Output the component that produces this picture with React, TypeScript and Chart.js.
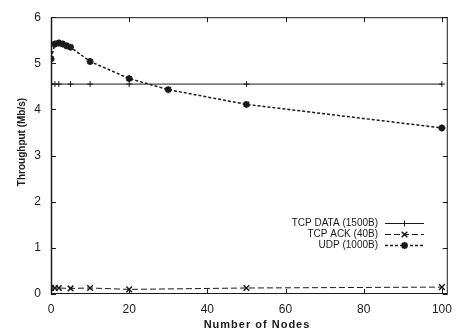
import React, { useEffect, useRef } from "react";
import { Chart, registerables } from "chart.js";

Chart.register(...registerables);

const tcpNodes = [0, 1, 2, 5, 10, 20, 50, 100];
const tcpDataValues = [4.55, 4.55, 4.55, 4.55, 4.55, 4.55, 4.55, 4.55];
const tcpAckValues = [0.13, 0.13, 0.13, 0.12, 0.13, 0.1, 0.13, 0.15];
const udpNodes = [0, 1, 2, 3, 4, 5, 10, 20, 30, 50, 100];
const udpValues = [5.1, 5.42, 5.44, 5.42, 5.38, 5.35, 5.04, 4.67, 4.43, 4.11, 3.6];
const seriesLabels = ["TCP DATA (1500B)", "TCP ACK (40B)", "UDP (1000B)"];
const xTicks = [0, 20, 40, 60, 80, 100];
const yTicks = [0, 1, 2, 3, 4, 5, 6];
const xTitle = "Number of Nodes";
const yTitle = "Throughput (Mb/s)";

const INK = "#1a1a1a";
const FONT = "'Liberation Sans', Arial, sans-serif";

const framePlugin = {
  id: "frame",
  afterDraw(chart: any) {
    const ctx = chart.ctx;
    const { left, right, top, bottom } = chart.chartArea;
    const xs = chart.scales.x;
    const ys = chart.scales.y;
    ctx.save();
    ctx.strokeStyle = INK;
    ctx.lineWidth = 1;
    ctx.setLineDash([]);
    ctx.strokeRect(left + 0.5, top + 0.5, right - left - 1, bottom - top - 1);
    ctx.lineWidth = 1.5;
    ctx.beginPath();
    ctx.moveTo(left + 0.5, top);
    ctx.lineTo(left + 0.5, bottom);
    ctx.stroke();
    ctx.lineWidth = 1;
    ctx.beginPath();
    yTicks.forEach((v) => {
      const y = Math.round(ys.getPixelForValue(v)) + 0.5;
      ctx.moveTo(left, y);
      ctx.lineTo(left + 5, y);
      ctx.moveTo(right, y);
      ctx.lineTo(right - 5, y);
    });
    xTicks.forEach((v) => {
      const x = Math.round(xs.getPixelForValue(v)) + 0.5;
      ctx.moveTo(x, bottom);
      ctx.lineTo(x, bottom - 5);
      ctx.moveTo(x, top);
      ctx.lineTo(x, top + 5);
    });
    ctx.stroke();

    // axis titles
    ctx.fillStyle = INK;
    ctx.font = `bold 11px ${FONT}`;
    ctx.textAlign = "center";
    ctx.textBaseline = "alphabetic";
    (ctx as any).letterSpacing = "1px";
    ctx.fillText(xTitle, 257, 328);
    (ctx as any).letterSpacing = "0px";
    ctx.save();
    ctx.translate(22, 142);
    ctx.rotate(-Math.PI / 2);
    ctx.font = `bold 10px ${FONT}`;
    ctx.textBaseline = "middle";
    ctx.fillText(yTitle, 0, 0);
    ctx.restore();

    // legend inside plot
    const textRight = 378;
    const lineStart = 385;
    const lineEnd = 424;
    const rowY = [223, 234, 245];
    ctx.font = `10px ${FONT}`;
    ctx.fillStyle = INK;
    ctx.textAlign = "right";
    ctx.textBaseline = "middle";
    chart.data.datasets.forEach((ds: any, i: number) => {
      const y = rowY[i] + 0.5;
      ctx.fillText(seriesLabels[i], textRight, y);
      ctx.strokeStyle = ds.borderColor;
      ctx.lineWidth = ds.borderWidth;
      ctx.setLineDash(ds.borderDash || []);
      ctx.beginPath();
      ctx.moveTo(lineStart, y);
      ctx.lineTo(lineEnd, y);
      ctx.stroke();
      ctx.setLineDash([]);
      ctx.lineWidth = ds.pointBorderWidth;
      const cx = (lineStart + lineEnd) / 2;
      const r = ds.pointRadius;
      ctx.beginPath();
      if (ds.pointStyle === "cross" || ds.pointStyle === "star") {
        ctx.moveTo(cx, y - r);
        ctx.lineTo(cx, y + r);
        ctx.moveTo(cx - r, y);
        ctx.lineTo(cx + r, y);
      }
      if (ds.pointStyle === "crossRot" || ds.pointStyle === "star") {
        const d = r * 0.707;
        ctx.moveTo(cx - d, y - d);
        ctx.lineTo(cx + d, y + d);
        ctx.moveTo(cx - d, y + d);
        ctx.lineTo(cx + d, y - d);
      }
      ctx.stroke();
    });
    ctx.restore();
  },
};

export default function App() {
  const ref = useRef<HTMLCanvasElement | null>(null);
  useEffect(() => {
    if (!ref.current) return;
    const chart = new Chart(ref.current, {
      type: "scatter",
      data: {
        datasets: [
          {
            label: seriesLabels[0],
            data: tcpNodes.map((x, i) => ({ x, y: tcpDataValues[i] })),
            showLine: true,
            borderColor: INK,
            backgroundColor: INK,
            borderWidth: 1,
            pointStyle: "cross",
            pointRadius: 3,
            pointBorderWidth: 1,
          },
          {
            label: seriesLabels[1],
            data: tcpNodes.map((x, i) => ({ x, y: tcpAckValues[i] })),
            showLine: true,
            borderColor: INK,
            backgroundColor: INK,
            borderWidth: 1,
            borderDash: [6, 3],
            pointStyle: "crossRot",
            pointRadius: 4,
            pointBorderWidth: 1.5,
          },
          {
            label: seriesLabels[2],
            data: udpNodes.map((x, i) => ({ x, y: udpValues[i] })),
            showLine: true,
            borderColor: INK,
            backgroundColor: INK,
            borderWidth: 1.5,
            borderDash: [3, 2],
            pointStyle: "star",
            pointRadius: 3.5,
            pointBorderWidth: 2,
          },
        ],
      },
      options: {
        responsive: false,
        animation: false,
        events: [],
        layout: { padding: { top: 15, right: 6, left: 0, bottom: 0 } },
        plugins: { legend: { display: false }, tooltip: { enabled: false } },
        scales: {
          x: {
            type: "linear",
            min: 0,
            max: 101.5,
            grid: { display: false, drawTicks: false },
            border: { display: false },
            afterFit: (s: any) => {
              s.height = 37;
            },
            afterBuildTicks: (s: any) => {
              s.ticks = xTicks.map((v) => ({ value: v }));
            },
            ticks: {
              padding: 8,
              color: INK,
              font: { family: FONT, size: 12 },
              maxRotation: 0,
            },
          },
          y: {
            type: "linear",
            min: 0,
            max: 6,
            grid: { display: false, drawTicks: false },
            border: { display: false },
            afterFit: (s: any) => {
              s.width = 51;
            },
            afterBuildTicks: (s: any) => {
              s.ticks = yTicks.map((v) => ({ value: v }));
            },
            ticks: {
              padding: 10,
              color: INK,
              font: { family: FONT, size: 12 },
            },
          },
        },
      },
      plugins: [framePlugin],
    });
    return () => chart.destroy();
  }, []);
  return (
    <div style={{ position: "fixed", left: 0, top: 0, width: 460, height: 331, background: "#fff" }}>
      <canvas ref={ref} width={460} height={331} style={{ display: "block" }} />
    </div>
  );
}
